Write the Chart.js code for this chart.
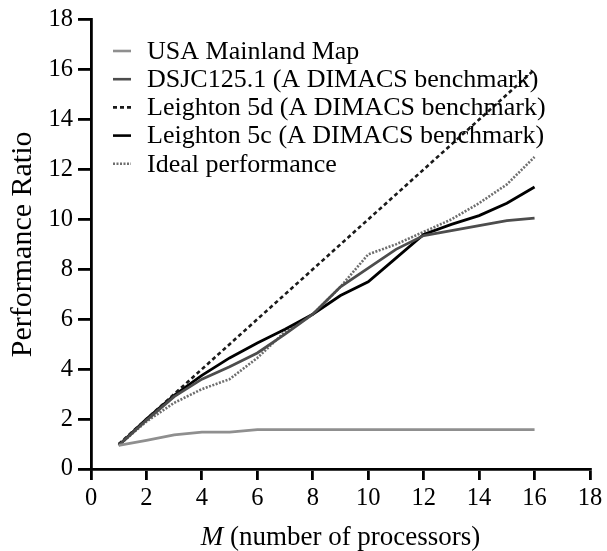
<!DOCTYPE html>
<html>
<head>
<meta charset="utf-8">
<script src="https://cdn.jsdelivr.net/npm/chart.js@4/dist/chart.umd.min.js"></script>
<style>
  html, body { margin: 0; padding: 0; background: #fff; }
  #wrap { width: 607px; height: 551px; position: relative; }
</style>
</head>
<body>
<div id="wrap"><canvas id="c" width="607" height="551"></canvas></div>
<script>
// ---- data ----
const processors  = [1, 2, 3, 4, 5, 6, 7, 8, 9, 10, 11, 12, 13, 14, 15, 16];
const usaMainland = [0.95, 1.15, 1.37, 1.48, 1.48, 1.58, 1.58, 1.58, 1.58, 1.58, 1.58, 1.58, 1.58, 1.58, 1.58, 1.58];
const dsjc125     = [0.95, 1.95, 2.9, 3.6, 4.1, 4.65, 5.4, 6.2, 7.3, 8.05, 8.8, 9.35, 9.55, 9.75, 9.95, 10.05];
const leighton5d  = [1, 2, 3, 4, 5, 6, 7, 8, 9, 10, 11, 12, 13, 14, 15, 16];
const leighton5c  = [0.95, 2.0, 2.95, 3.75, 4.45, 5.05, 5.6, 6.2, 6.95, 7.5, 8.45, 9.4, 9.8, 10.15, 10.65, 11.3];
const idealPerf   = [0.95, 1.9, 2.65, 3.2, 3.6, 4.45, 5.5, 6.2, 7.3, 8.6, 9.0, 9.5, 10.0, 10.65, 11.4, 12.5];
const seriesNames = ['USA Mainland Map', 'DSJC125.1 (A DIMACS benchmark)', 'Leighton 5d (A DIMACS benchmark)', 'Leighton 5c (A DIMACS benchmark)', 'Ideal performance'];
const xTitleItalic = 'M';
const xTitleRest = ' (number of processors)';
const yTitle = 'Performance Ratio';

const FONT = "'Liberation Serif', 'Times New Roman', serif";
const pts = arr => processors.map((p, i) => ({ x: p, y: arr[i] }));

const datasets = [
  { label: seriesNames[0], data: pts(usaMainland), borderColor: '#8f8f8f', borderWidth: 2.8, borderDash: [] },
  { label: seriesNames[1], data: pts(dsjc125),     borderColor: '#4d4d4d', borderWidth: 2.8, borderDash: [] },
  { label: seriesNames[2], data: pts(leighton5d),  borderColor: '#1a1a1a', borderWidth: 2.6, borderDash: [4, 3] },
  { label: seriesNames[3], data: pts(leighton5c),  borderColor: '#000000', borderWidth: 2.8, borderDash: [] },
  { label: seriesNames[4], data: pts(idealPerf),   borderColor: '#6e6e6e', borderWidth: 2.6, borderDash: [2, 1.5] }
].map(d => Object.assign(d, { pointRadius: 0, tension: 0, fill: false }));

const legendPlugin = {
  id: 'innerLegend',
  afterDraw(chart) {
    const ctx = chart.ctx;
    ctx.save();
    ctx.font = `26px ${FONT}`;
    ctx.textBaseline = 'middle';
    ctx.fillStyle = '#000';
    const y0 = 51, dy = 28.2;
    chart.data.datasets.forEach((ds, i) => {
      const y = y0 + i * dy;
      ctx.strokeStyle = ds.borderColor;
      ctx.lineWidth = 2.6;
      ctx.setLineDash(ds.borderDash || []);
      ctx.beginPath();
      ctx.moveTo(113, y);
      ctx.lineTo(131, y);
      ctx.stroke();
      ctx.setLineDash([]);
      ctx.fillText(ds.label, 147, y + 1);
    });
    ctx.restore();
  }
};

const titlePlugin = {
  id: 'axisTitles',
  afterDraw(chart) {
    const ctx = chart.ctx;
    const ca = chart.chartArea;
    ctx.save();
    ctx.fillStyle = '#000';
    ctx.textBaseline = 'alphabetic';
    const fItal = `italic 27px ${FONT}`;
    const fNorm = `27px ${FONT}`;
    ctx.font = fItal; const w1 = ctx.measureText(xTitleItalic).width;
    ctx.font = fNorm; const w2 = ctx.measureText(xTitleRest).width;
    const cx = (ca.left + ca.right) / 2;
    let x = cx - (w1 + w2) / 2;
    const yb = 545;
    ctx.font = fItal; ctx.fillText(xTitleItalic, x, yb);
    ctx.font = fNorm; ctx.fillText(xTitleRest, x + w1, yb);
    // y title
    ctx.font = `30px ${FONT}`;
    ctx.translate(23, (ca.top + ca.bottom) / 2);
    ctx.rotate(-Math.PI / 2);
    ctx.textAlign = 'center';
    ctx.textBaseline = 'middle';
    ctx.fillText(yTitle, 0, 0);
    ctx.restore();
  }
};

new Chart(document.getElementById('c'), {
  type: 'line',
  data: { datasets },
  options: {
    responsive: false,
    animation: false,
    layout: { padding: { top: 16, right: 17, left: 0, bottom: 0 } },
    plugins: { legend: { display: false }, tooltip: { enabled: false } },
    scales: {
      x: {
        type: 'linear', min: 0, max: 18,
        ticks: { stepSize: 2, color: '#000', font: { family: FONT, size: 24.5 }, padding: 4, maxRotation: 0 },
        grid: { drawOnChartArea: false, drawTicks: true, tickLength: 11, color: '#000', lineWidth: 2.8 },
        border: { display: true, color: '#000', width: 2.8 },
        afterFit(s) { s.height = 82; }
      },
      y: {
        type: 'linear', min: 0, max: 18,
        ticks: { stepSize: 2, color: '#000', font: { family: FONT, size: 24.5 }, padding: 5 },
        grid: { drawOnChartArea: false, drawTicks: true, tickLength: 13, color: '#000', lineWidth: 2.8 },
        border: { display: true, color: '#000', width: 2.8 },
        afterFit(s) { s.width = 91; }
      }
    }
  },
  plugins: [legendPlugin, titlePlugin]
});
</script>
</body>
</html>
